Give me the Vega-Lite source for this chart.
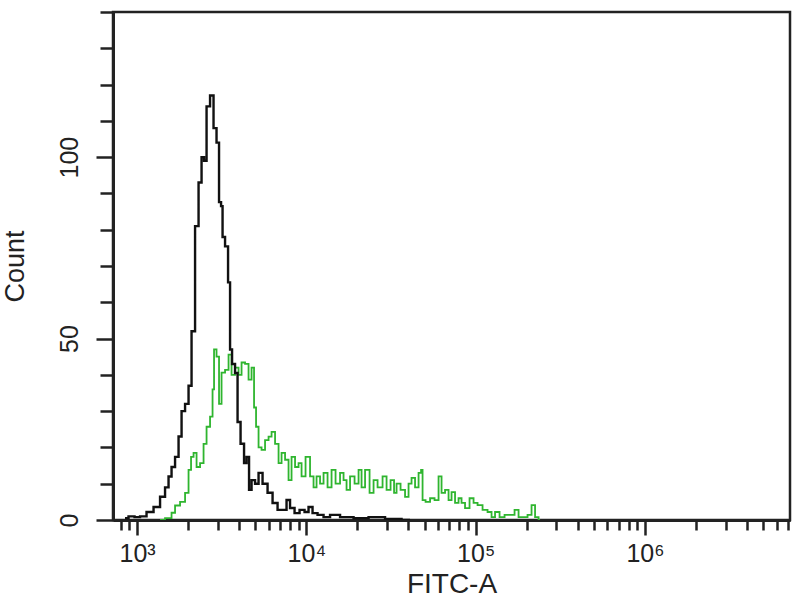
{
  "$schema": "https://vega.github.io/schema/vega-lite/v6.json",
  "autosize": "none",
  "width": 677,
  "height": 508,
  "padding": {"left": 113, "top": 12, "right": 10, "bottom": 80},
  "background": "white",
  "config": {
    "view": {"stroke": "#222", "strokeWidth": 2.5},
    "axis": {"grid": false, "domainColor": "#222", "domainWidth": 3, "tickColor": "#222", "tickWidth": 2.5, "labelFont": "Liberation Sans", "titleFont": "Liberation Sans", "labelColor": "#222", "titleColor": "#222", "titleFontWeight": "normal"}
  },
  "datasets": {
    "control": [
      {"fitc": 849, "count": 0.5}, {"fitc": 934, "count": 1}, {"fitc": 1000, "count": 0.8}, {"fitc": 1085, "count": 1},
      {"fitc": 1193, "count": 2.2}, {"fitc": 1313, "count": 3.6}, {"fitc": 1424, "count": 6.4}, {"fitc": 1504, "count": 9},
      {"fitc": 1566, "count": 12}, {"fitc": 1632, "count": 14.6}, {"fitc": 1723, "count": 17.4}, {"fitc": 1795, "count": 23},
      {"fitc": 1870, "count": 30}, {"fitc": 1974, "count": 32}, {"fitc": 2056, "count": 37}, {"fitc": 2142, "count": 52},
      {"fitc": 2262, "count": 81}, {"fitc": 2356, "count": 93}, {"fitc": 2454, "count": 100}, {"fitc": 2522, "count": 99},
      {"fitc": 2627, "count": 114}, {"fitc": 2773, "count": 117}, {"fitc": 2888, "count": 108}, {"fitc": 3008, "count": 104},
      {"fitc": 3092, "count": 87.6}, {"fitc": 3178, "count": 86.5}, {"fitc": 3221, "count": 78}, {"fitc": 3401, "count": 75.4},
      {"fitc": 3495, "count": 65.5}, {"fitc": 3592, "count": 47}, {"fitc": 3690, "count": 43}, {"fitc": 3896, "count": 40.5},
      {"fitc": 3951, "count": 27}, {"fitc": 4228, "count": 21}, {"fitc": 4344, "count": 15.7}, {"fitc": 4525, "count": 17.4},
      {"fitc": 4650, "count": 8.3}, {"fitc": 4844, "count": 11}, {"fitc": 5115, "count": 10}, {"fitc": 5328, "count": 13},
      {"fitc": 5702, "count": 10}, {"fitc": 6105, "count": 7.5}, {"fitc": 6535, "count": 4.7}, {"fitc": 6994, "count": 2.8},
      {"fitc": 7484, "count": 2.8}, {"fitc": 7796, "count": 5.5}, {"fitc": 8232, "count": 3.3}, {"fitc": 8813, "count": 1.9},
      {"fitc": 9432, "count": 2.8}, {"fitc": 10095, "count": 2.2}, {"fitc": 10515, "count": 3.6}, {"fitc": 11255, "count": 1.9},
      {"fitc": 12048, "count": 1.4}, {"fitc": 13251, "count": 0.8}, {"fitc": 14379, "count": 1.4}, {"fitc": 17395, "count": 0.8},
      {"fitc": 20760, "count": 0.5}, {"fitc": 26162, "count": 0.8}, {"fitc": 32521, "count": 0.3}, {"fitc": 40972, "count": 0}
    ],
    "sample": [
      {"fitc": 1367, "count": 0}, {"fitc": 1566, "count": 0.5}, {"fitc": 1632, "count": 2}, {"fitc": 1723, "count": 4},
      {"fitc": 1870, "count": 5}, {"fitc": 1974, "count": 7.5}, {"fitc": 2056, "count": 13.8}, {"fitc": 2113, "count": 17.4},
      {"fitc": 2201, "count": 18.5}, {"fitc": 2293, "count": 14.6}, {"fitc": 2421, "count": 15.7}, {"fitc": 2522, "count": 21},
      {"fitc": 2627, "count": 25.7}, {"fitc": 2773, "count": 28.5}, {"fitc": 2812, "count": 36}, {"fitc": 2888, "count": 47},
      {"fitc": 3008, "count": 45}, {"fitc": 3092, "count": 32}, {"fitc": 3221, "count": 40.6}, {"fitc": 3401, "count": 41.4},
      {"fitc": 3543, "count": 45.6}, {"fitc": 3690, "count": 40}, {"fitc": 3896, "count": 42}, {"fitc": 4059, "count": 40},
      {"fitc": 4228, "count": 43.4}, {"fitc": 4464, "count": 43}, {"fitc": 4650, "count": 38.7}, {"fitc": 4844, "count": 42},
      {"fitc": 4977, "count": 31}, {"fitc": 5115, "count": 25.7}, {"fitc": 5328, "count": 20}, {"fitc": 5549, "count": 19.3},
      {"fitc": 5860, "count": 22}, {"fitc": 6105, "count": 23}, {"fitc": 6359, "count": 24.3}, {"fitc": 6714, "count": 21},
      {"fitc": 6994, "count": 15.7}, {"fitc": 7286, "count": 18.5}, {"fitc": 7691, "count": 16.6}, {"fitc": 8011, "count": 11},
      {"fitc": 8345, "count": 17.4}, {"fitc": 8813, "count": 14.6}, {"fitc": 9180, "count": 15.7}, {"fitc": 9561, "count": 12},
      {"fitc": 10233, "count": 17.4}, {"fitc": 10806, "count": 12}, {"fitc": 11255, "count": 9}, {"fitc": 11724, "count": 12},
      {"fitc": 12380, "count": 10}, {"fitc": 12895, "count": 13}, {"fitc": 13804, "count": 9}, {"fitc": 14379, "count": 13.8},
      {"fitc": 15389, "count": 10}, {"fitc": 16250, "count": 13}, {"fitc": 16930, "count": 11}, {"fitc": 17633, "count": 8.3},
      {"fitc": 18621, "count": 12}, {"fitc": 19932, "count": 10}, {"fitc": 20760, "count": 13.8}, {"fitc": 21625, "count": 9},
      {"fitc": 22835, "count": 13.8}, {"fitc": 24442, "count": 7.5}, {"fitc": 25461, "count": 11}, {"fitc": 27250, "count": 9},
      {"fitc": 29170, "count": 12}, {"fitc": 30384, "count": 8.3}, {"fitc": 32521, "count": 11}, {"fitc": 33418, "count": 7.5},
      {"fitc": 34808, "count": 10}, {"fitc": 37256, "count": 8.3}, {"fitc": 39336, "count": 6.4}, {"fitc": 40972, "count": 10},
      {"fitc": 42676, "count": 11.6}, {"fitc": 45082, "count": 9}, {"fitc": 46954, "count": 13}, {"fitc": 48249, "count": 13.8},
      {"fitc": 48909, "count": 5.5}, {"fitc": 52347, "count": 5}, {"fitc": 55273, "count": 6}, {"fitc": 59159, "count": 5.5},
      {"fitc": 61618, "count": 12}, {"fitc": 64184, "count": 7.5}, {"fitc": 67780, "count": 8.3}, {"fitc": 70598, "count": 5.5},
      {"fitc": 73534, "count": 7.7}, {"fitc": 77645, "count": 4.7}, {"fitc": 80874, "count": 6}, {"fitc": 84236, "count": 4.7},
      {"fitc": 88945, "count": 3.3}, {"fitc": 95215, "count": 6}, {"fitc": 99194, "count": 4.7}, {"fitc": 106170, "count": 4.1},
      {"fitc": 113640, "count": 2.8}, {"fitc": 121630, "count": 2.2}, {"fitc": 126690, "count": 0.8}, {"fitc": 133750, "count": 2.2},
      {"fitc": 143220, "count": 0.8}, {"fitc": 153300, "count": 1.4}, {"fitc": 164060, "count": 1.4}, {"fitc": 175620, "count": 2.8},
      {"fitc": 182930, "count": 0.8}, {"fitc": 195760, "count": 0.8}, {"fitc": 209510, "count": 1.4}, {"fitc": 218310, "count": 4.1},
      {"fitc": 230540, "count": 0.8}, {"fitc": 240140, "count": 0}
    ]
  },
  "layer": [
    {
      "data": {"name": "sample"},
      "mark": {"type": "line", "interpolate": "step", "color": "#2fb52f", "strokeWidth": 1.8, "clip": true},
      "encoding": {
        "x": {"field": "fitc", "type": "quantitative",
          "scale": {"type": "log", "domain": [721, 7190000], "nice": false},
          "axis": {"orient": "bottom", "title": null, "labels": false, "tickSize": 10,
            "values": [800, 900, 2000, 3000, 4000, 5000, 6000, 7000, 8000, 9000, 20000, 30000, 40000, 50000, 60000, 70000, 80000, 90000, 200000, 300000, 400000, 500000, 600000, 700000, 800000, 900000, 2000000, 3000000, 4000000, 5000000, 6000000, 7000000]}},
        "y": {"field": "count", "type": "quantitative",
          "scale": {"domain": [0, 140], "nice": false},
          "axis": {"orient": "left", "title": null, "labels": false, "tickSize": 13,
            "values": [10, 20, 30, 40, 60, 70, 80, 90, 110, 120, 130, 140]}}
      }
    },
    {
      "data": {"name": "control"},
      "mark": {"type": "line", "interpolate": "step", "color": "#111", "strokeWidth": 2.4, "clip": true},
      "encoding": {
        "x": {"field": "fitc", "type": "quantitative",
          "scale": {"type": "log", "domain": [721, 7190000], "nice": false},
          "axis": {"orient": "bottom", "title": "FITC-A", "tickSize": 15, "values": [1000, 10000, 100000, 1000000],
            "labelExpr": "datum.value == 1000 ? '10³' : datum.value == 10000 ? '10⁴' : datum.value == 100000 ? '10⁵' : '10⁶'",
            "labelFontSize": 25, "labelPadding": 6, "titleFontSize": 28, "titlePadding": 4}},
        "y": {"field": "count", "type": "quantitative",
          "scale": {"domain": [0, 140], "nice": false},
          "axis": {"orient": "left", "title": "Count", "tickSize": 17, "values": [0, 50, 100],
            "labelAngle": 270, "labelAlign": "center", "labelBaseline": "bottom",
            "labelFontSize": 25, "labelPadding": 14, "titleFontSize": 27, "titlePadding": 28}}
      }
    }
  ],
  "resolve": {"axis": {"x": "independent", "y": "independent"}}
}
